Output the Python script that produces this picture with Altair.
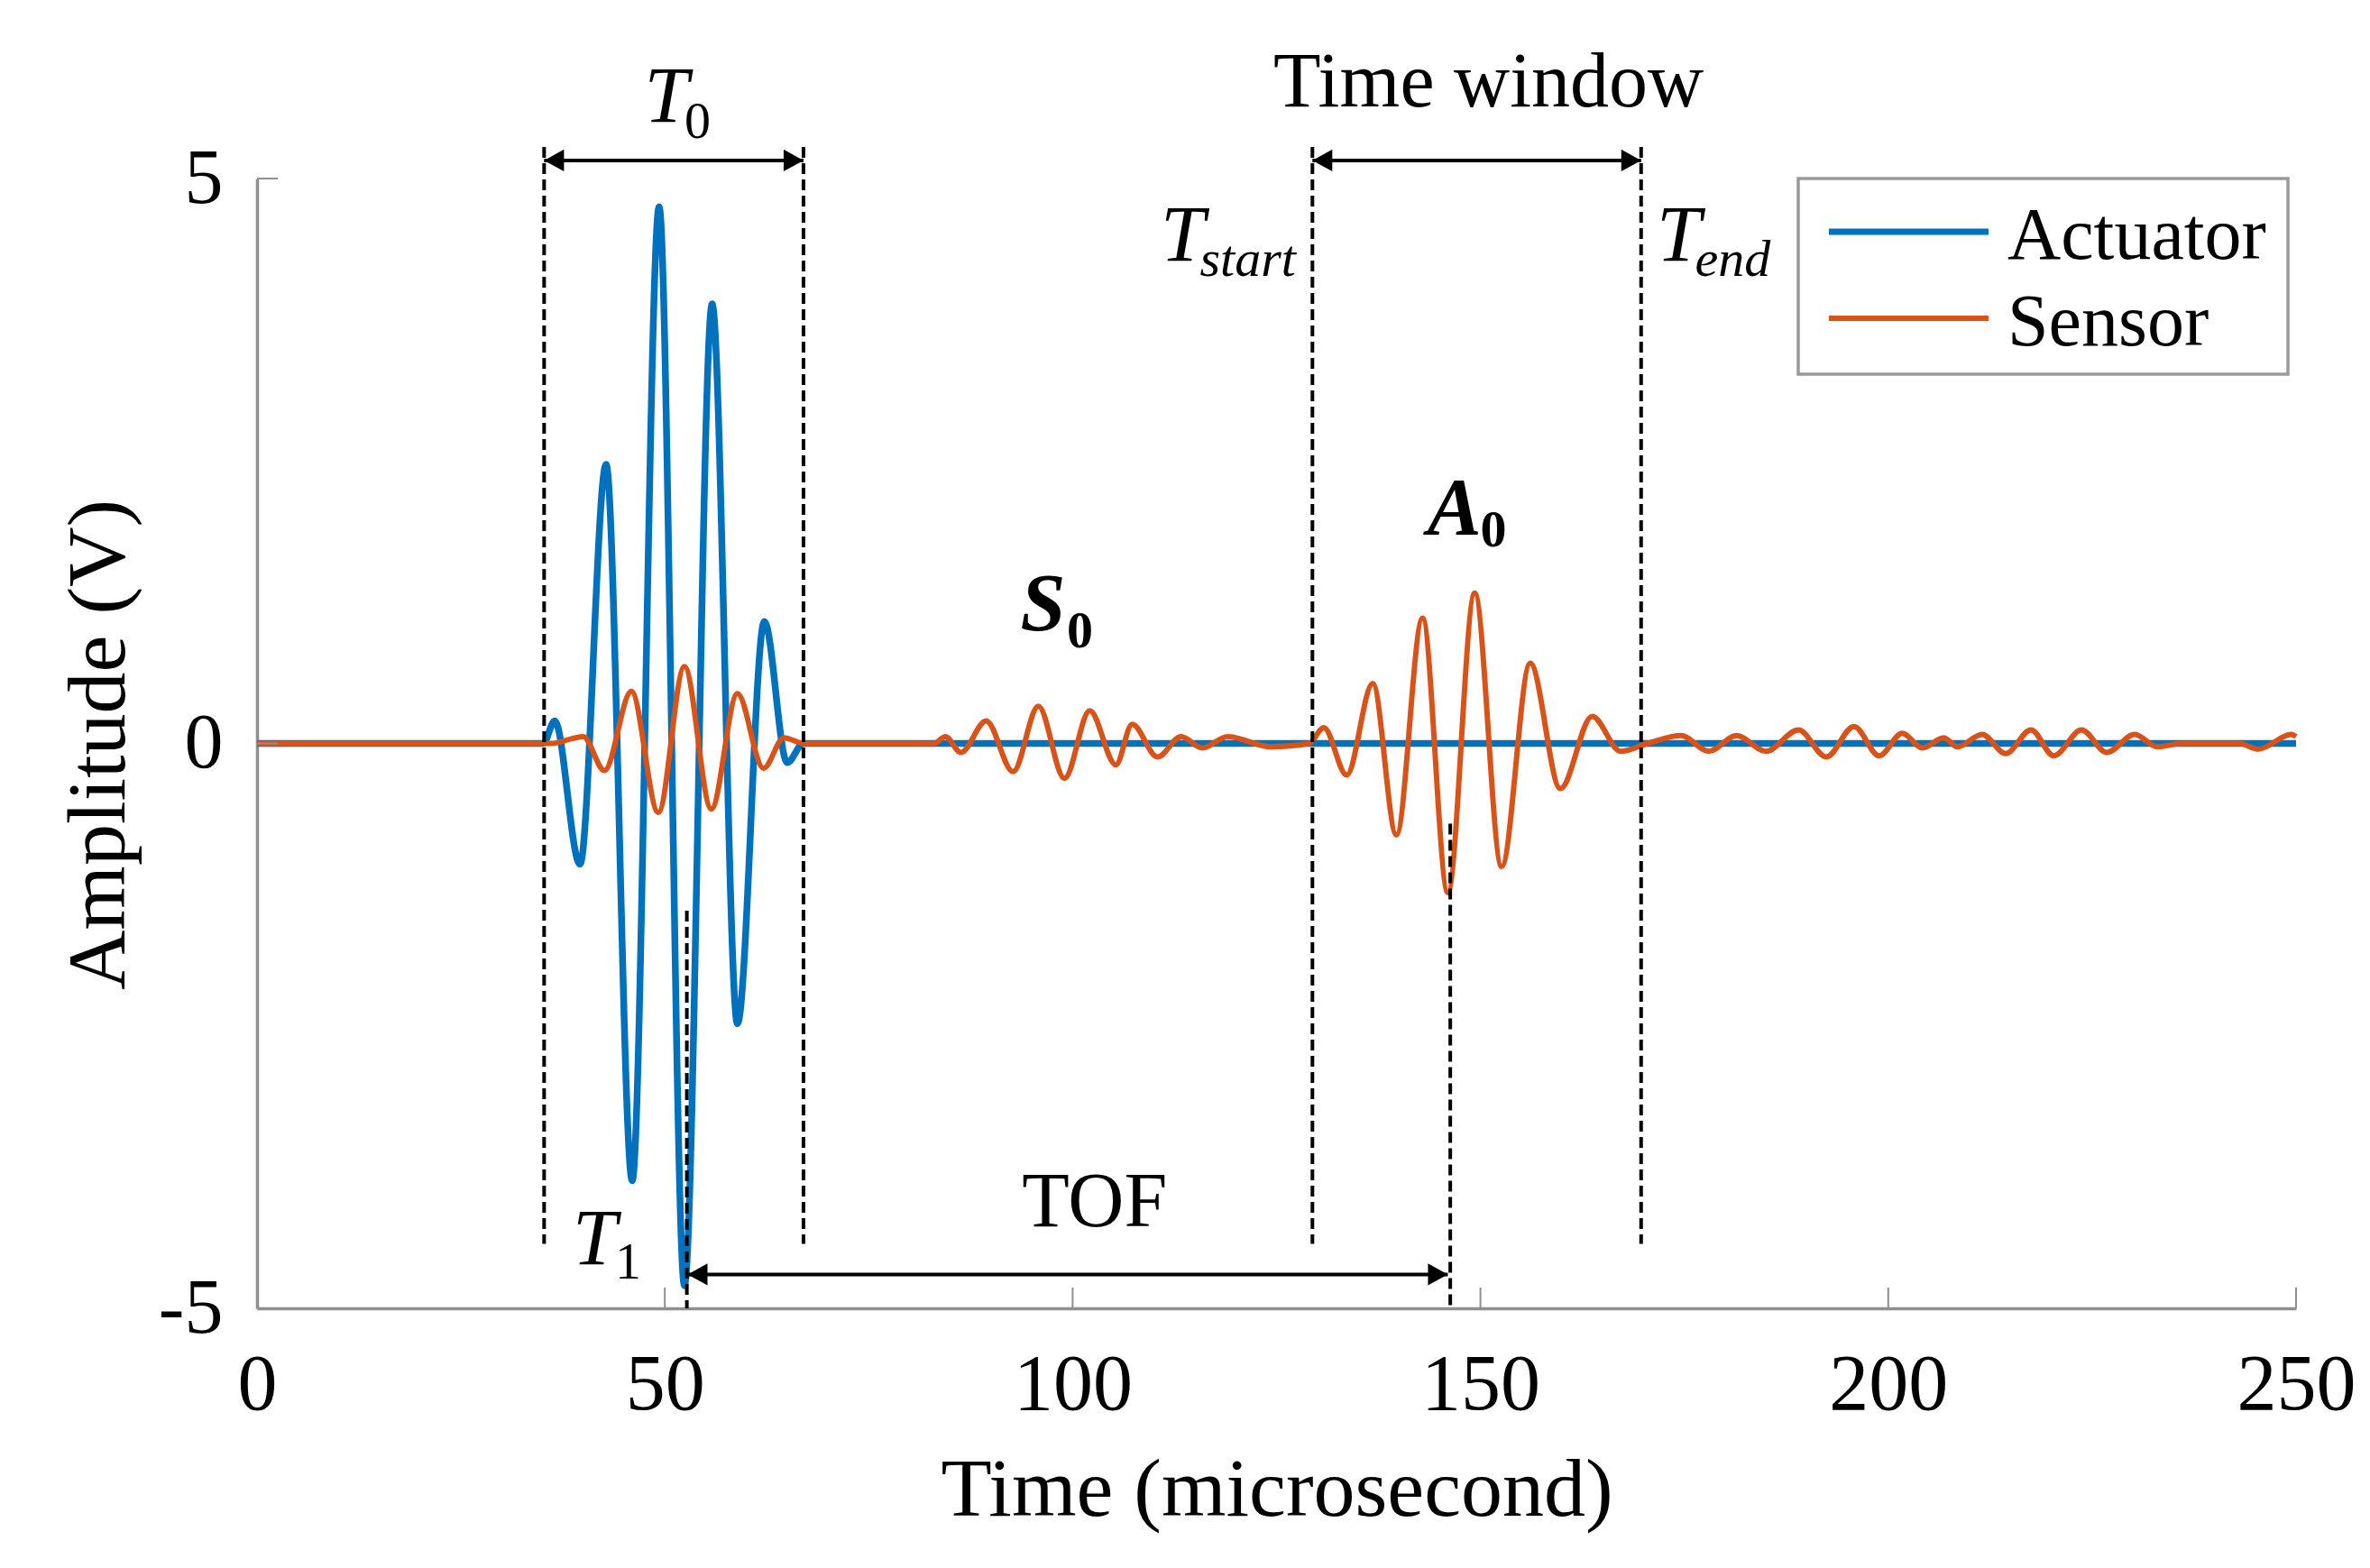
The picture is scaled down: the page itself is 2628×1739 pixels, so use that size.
import altair as alt
import pandas as pd

FONT = "Liberation Serif"

series_names = ["Actuator", "Sensor"]
series_colors = ["#0072BD", "#D95319"]

# Actuator signal: extrema (time in µs, amplitude in V)
act_t = [0, 35.1, 36.5, 39.6, 42.8, 46.0, 49.3, 52.4, 55.8, 58.9, 62.2, 65.0, 67.0, 250]
act_v = [0, 0, 0.2, -1.07, 2.47, -3.87, 4.75, -4.8, 3.89, -2.48, 1.08, -0.17, 0, 0]

# Sensor signal: extrema
sen_t = [0, 36.0, 40.0, 42.6, 45.9, 49.2, 52.4, 55.7, 58.9, 62.1, 64.6, 67.0,
         83.0, 84.4, 86.3, 89.4, 92.7, 95.8, 99.0, 102.1, 105.3, 107.3, 110.4, 113.3, 115.9, 119.0, 124.3, 129.0,
         130.8, 133.6, 136.8, 139.7, 142.9, 146.0, 149.3, 152.6, 156.1, 159.8, 163.7, 167.2, 170.5,
         174.6, 178.0, 181.4, 185.0, 189.0, 192.4, 195.8, 198.9, 201.7, 204.2, 206.8, 208.5, 211.5, 214.4,
         217.5, 220.3, 223.7, 226.8, 230.2, 233.0, 236.0, 243.0, 245.4, 249.4, 250.0]
sen_v = [0, 0, 0.06, -0.24, 0.46, -0.61, 0.68, -0.58, 0.44, -0.22, 0.05, 0,
         0, 0.06, -0.08, 0.2, -0.25, 0.33, -0.31, 0.29, -0.19, 0.17, -0.12, 0.06, -0.04, 0.06, -0.03, 0,
         0.14, -0.28, 0.53, -0.81, 1.11, -1.32, 1.33, -1.09, 0.71, -0.4, 0.24, -0.07, 0.0,
         0.07, -0.07, 0.07, -0.07, 0.12, -0.12, 0.15, -0.11, 0.09, -0.04, 0.05, -0.03, 0.08, -0.09,
         0.12, -0.11, 0.12, -0.08, 0.08, -0.03, 0.0, 0.0, -0.05, 0.08, 0.06]

x_ticks = [0, 50, 100, 150, 200, 250]
y_ticks = [-5, 0, 5]

# Dashed marker lines
dash_t = [35.2, 67.0, 129.4, 169.7, 52.7, 146.3]
dash_top = [5.28, 5.28, 5.28, 5.28, -1.48, -0.71]
dash_bottom = [-4.43, -4.43, -4.43, -4.43, -5.0, -5.0]

# Double-headed arrows
arrow_start = [35.2, 129.4, 52.8]
arrow_end = [67.0, 169.7, 146.0]
arrow_level = [5.16, 5.16, -4.70]

# Annotation texts
plain_text = ["Time window", "TOF"]
plain_t = [151.0, 102.7]
plain_v = [5.64, -4.27]

italic_text = ["T", "T", "T", "T"]
italic_t = [47.5, 110.8, 171.6, 38.7]
italic_v = [5.50, 4.27, 4.27, -4.61]

italic_sub_text = ["start", "end"]
italic_sub_t = [115.6, 176.3]
italic_sub_v = [4.14, 4.14]

sub_text = ["0", "1"]
sub_t = [52.4, 43.9]
sub_v = [5.36, -4.74]

bold_text = ["S", "A"]
bold_t = [93.6, 143.5]
bold_v = [1.0, 1.85]

bold_sub_text = ["0", "0"]
bold_sub_t = [99.3, 150.0]
bold_sub_v = [0.85, 1.74]

W, H = 2261, 1253

xs = alt.Scale(domain=[0, 250], nice=False, zero=False)
ys = alt.Scale(domain=[-5, 5], nice=False, zero=False)

act_df = pd.DataFrame({"t": act_t, "v": act_v, "series": series_names[0]})
sen_df = pd.DataFrame({"t": sen_t, "v": sen_v, "series": series_names[1]})
color = alt.Color("series:N", scale=alt.Scale(domain=series_names, range=series_colors), legend=None)

x_axis = alt.Axis(values=x_ticks, ticks=False, tickSize=0, grid=False,
                  domainColor="#8f8f8f", domainWidth=3.5,
                  labelFont=FONT, labelFontSize=88, labelColor="black", labelPadding=41,
                  labelFlush=False, labelOverlap=False,
                  title="Time (microsecond)", titleFont=FONT, titleFontSize=92,
                  titleFontWeight="normal", titleColor="black",
                  titleX=W / 2, titleY=229, titleAlign="center", titleBaseline="alphabetic")
y_axis = alt.Axis(values=y_ticks, ticks=False, tickSize=0, grid=False,
                  domainColor="#8f8f8f", domainWidth=3.5,
                  labelFont=FONT, labelFontSize=86, labelColor="black", labelPadding=38,
                  labelFlush=False, labelOverlap=False,
                  labelExpr="datum.value < 0 ? '-' + abs(datum.value) : '' + datum.value",
                  title="Amplitude (V)", titleFont=FONT, titleFontSize=92,
                  titleFontWeight="normal", titleColor="black",
                  titleAngle=270, titleX=-148, titleY=H / 2 + 1,
                  titleAlign="center", titleBaseline="alphabetic")

X = alt.X("t:Q", scale=xs)
Y = alt.Y("v:Q", scale=ys)

act_line = alt.Chart(act_df).mark_line(interpolate="monotone", strokeWidth=7.5).encode(
    x=alt.X("t:Q", scale=xs, axis=x_axis),
    y=alt.Y("v:Q", scale=ys, axis=y_axis),
    color=color,
)
sen_line = alt.Chart(sen_df).mark_line(interpolate="monotone", strokeWidth=6).encode(
    x=X, y=Y, color=color,
)

# inward ticks
xtick_layer = alt.Chart(pd.DataFrame({"t": x_ticks})).mark_rule(color="#8f8f8f", strokeWidth=2).encode(
    x=X, y=alt.value(H), y2=alt.value(H - 23))
ytick_layer = alt.Chart(pd.DataFrame({"v": y_ticks})).mark_rule(color="#8f8f8f", strokeWidth=2).encode(
    y=Y, x=alt.value(0), x2=alt.value(23))

dash_df = pd.DataFrame({"t": dash_t, "v": dash_top, "v2": dash_bottom})
dash_layer = alt.Chart(dash_df).mark_rule(color="black", strokeWidth=4, strokeDash=[12, 6]).encode(
    x=X, y=Y, y2="v2:Q",
)

arrow_df = pd.DataFrame({"t": arrow_start, "t2": arrow_end, "v": arrow_level})
arrow_layer = alt.Chart(arrow_df).mark_rule(color="black", strokeWidth=4).encode(
    x=X, x2="t2:Q", y=Y,
)
head_left = alt.Chart(arrow_df).mark_point(
    shape="M0,0L1,-0.55L1,0.55Z", filled=True, size=1936, color="black", opacity=1
).encode(x=X, y=Y)
head_right = alt.Chart(pd.DataFrame({"t": arrow_end, "v": arrow_level})).mark_point(
    shape="M0,0L-1,-0.55L-1,0.55Z", filled=True, size=1936, color="black", opacity=1
).encode(x=X, y=Y)


def text_layer(texts, ts, vs, size, style="normal", weight="normal", align="left"):
    df = pd.DataFrame({"label": texts, "t": ts, "v": vs})
    return alt.Chart(df).mark_text(
        font=FONT, fontSize=size, fontStyle=style, fontWeight=weight,
        align=align, baseline="alphabetic", color="black"
    ).encode(x=X, y=Y, text="label:N")


texts = [
    text_layer(plain_text, plain_t, plain_v, 86, align="center"),
    text_layer(italic_text, italic_t, italic_v, 88, style="italic"),
    text_layer(italic_sub_text, italic_sub_t, italic_sub_v, 58, style="italic"),
    text_layer(sub_text, sub_t, sub_v, 58),
    text_layer(bold_text, bold_t, bold_v, 90, style="italic", weight="bold"),
    text_layer(bold_sub_text, bold_sub_t, bold_sub_v, 58, weight="bold"),
]

# Legend box (drawn manually)
one = pd.DataFrame({"k": [0]})
legend_box = alt.Chart(one).mark_rect(fill="white", stroke="#9a9a9a", strokeWidth=3.5).encode(
    x=alt.value(1709), x2=alt.value(2252), y=alt.value(0), y2=alt.value(217))
legend_l1 = alt.Chart(one).mark_rule(color=series_colors[0], strokeWidth=7).encode(
    x=alt.value(1743), x2=alt.value(1920), y=alt.value(59))
legend_l2 = alt.Chart(one).mark_rule(color=series_colors[1], strokeWidth=6).encode(
    x=alt.value(1743), x2=alt.value(1920), y=alt.value(155))
legend_t1 = alt.Chart(one).mark_text(font=FONT, fontSize=82, align="left", baseline="alphabetic",
                                     color="black").encode(
    x=alt.value(1941), y=alt.value(89), text=alt.value(series_names[0]))
legend_t2 = alt.Chart(one).mark_text(font=FONT, fontSize=82, align="left", baseline="alphabetic",
                                     color="black").encode(
    x=alt.value(1941), y=alt.value(185), text=alt.value(series_names[1]))

chart = alt.layer(
    act_line, sen_line, xtick_layer, ytick_layer, dash_layer, arrow_layer, head_left, head_right,
    *texts, legend_box, legend_l1, legend_l2, legend_t1, legend_t2
).properties(
    width=W, height=H,
    background="white",
    padding={"left": 277, "top": 190, "right": 72, "bottom": 260},
    autosize=alt.AutoSizeParams(type="none"),
).configure_view(stroke=None)

chart.save("out.html", embed_options={"renderer": "svg", "actions": False})
